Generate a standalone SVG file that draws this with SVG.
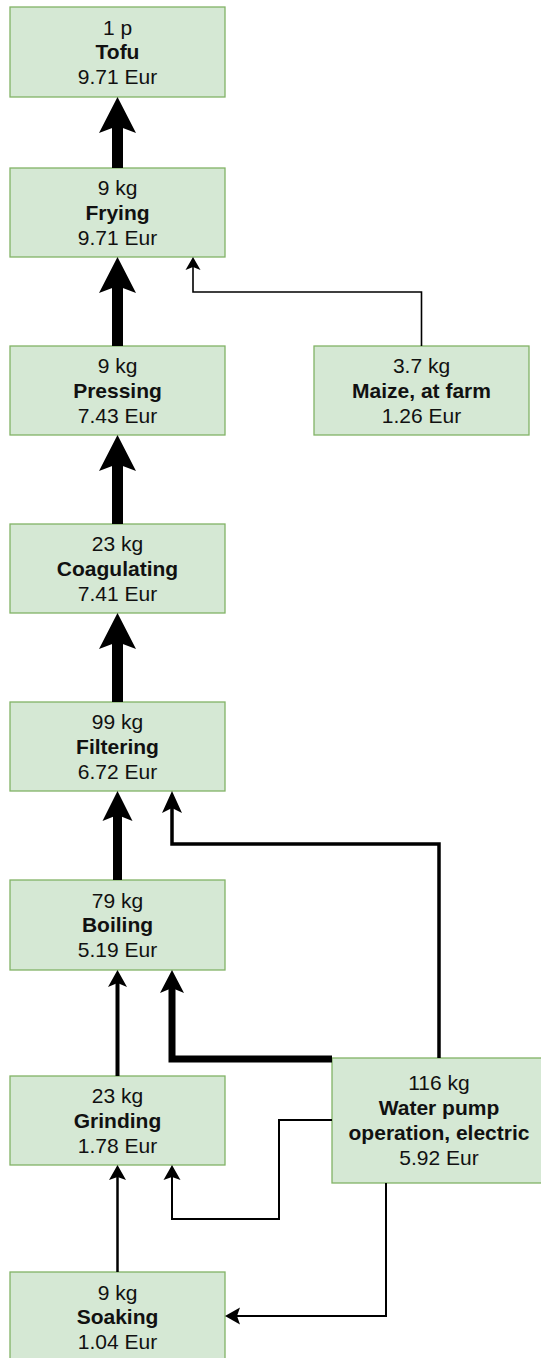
<svg xmlns="http://www.w3.org/2000/svg" width="541" height="1358" viewBox="0 0 541 1358">
<style>
.box{fill:#d5e8d4;stroke:#82b366;stroke-width:1.3}
.t{font-family:"Liberation Sans",Arial,sans-serif;font-size:21px;fill:#111;text-anchor:middle}
.b{font-weight:bold}
.e{fill:none;stroke:#000;stroke-linejoin:miter;stroke-linecap:butt}
</style>
<defs>
<marker id="aXL" markerUnits="userSpaceOnUse" orient="auto" refX="7" refY="0" markerWidth="40" markerHeight="40" overflow="visible"><path d="M0,-18.5 L36,0 L0,18.5 L7,0 Z" fill="#000"/></marker>
<marker id="aL" markerUnits="userSpaceOnUse" orient="auto" refX="6" refY="0" markerWidth="40" markerHeight="40" overflow="visible"><path d="M0,-15 L30,0 L0,15 L6,0 Z" fill="#000"/></marker>
<marker id="aM" markerUnits="userSpaceOnUse" orient="auto" refX="5" refY="0" markerWidth="40" markerHeight="40" overflow="visible"><path d="M0,-12 L23,0 L0,12 L5,0 Z" fill="#000"/></marker>
<marker id="aS" markerUnits="userSpaceOnUse" orient="auto" refX="5" refY="0" markerWidth="40" markerHeight="40" overflow="visible"><path d="M0,-10 L22,0 L0,10 L5,0 Z" fill="#000"/></marker>
<marker id="aG" markerUnits="userSpaceOnUse" orient="auto" refX="4" refY="0" markerWidth="40" markerHeight="40" overflow="visible"><path d="M0,-9.5 L17,0 L0,9.5 L4,0 Z" fill="#000"/></marker>
<marker id="aXS" markerUnits="userSpaceOnUse" orient="auto" refX="3" refY="0" markerWidth="40" markerHeight="40" overflow="visible"><path d="M0,-8.5 L15,0 L0,8.5 L3,0 Z" fill="#000"/></marker>
<marker id="aXXS" markerUnits="userSpaceOnUse" orient="auto" refX="3" refY="0" markerWidth="40" markerHeight="40" overflow="visible"><path d="M0,-7.5 L13,0 L0,7.5 L3,0 Z" fill="#000"/></marker>
</defs>
<rect width="541" height="1358" fill="#fff"/>
<g id="tofu"><rect class="box" x="10" y="7" width="215" height="90"/>
<text class="t" x="117.5" y="34.5">1 p</text><text class="t b" x="117.5" y="59">Tofu</text><text class="t" x="117.5" y="84">9.71 Eur</text></g>
<g id="frying"><rect class="box" x="10" y="168" width="215" height="89"/>
<text class="t" x="117.5" y="195">9 kg</text><text class="t b" x="117.5" y="219.5">Frying</text><text class="t" x="117.5" y="244.5">9.71 Eur</text></g>
<g id="pressing"><rect class="box" x="10" y="346" width="215" height="89"/>
<text class="t" x="117.5" y="373">9 kg</text><text class="t b" x="117.5" y="397.5">Pressing</text><text class="t" x="117.5" y="422.5">7.43 Eur</text></g>
<g id="maize"><rect class="box" x="314" y="346" width="215" height="89"/>
<text class="t" x="421.5" y="373">3.7 kg</text><text class="t b" x="421.5" y="397.5">Maize, at farm</text><text class="t" x="421.5" y="422.5">1.26 Eur</text></g>
<g id="coagulating"><rect class="box" x="10" y="524" width="215" height="89"/>
<text class="t" x="117.5" y="551">23 kg</text><text class="t b" x="117.5" y="575.5">Coagulating</text><text class="t" x="117.5" y="600.5">7.41 Eur</text></g>
<g id="filtering"><rect class="box" x="10" y="702" width="215" height="89"/>
<text class="t" x="117.5" y="729">99 kg</text><text class="t b" x="117.5" y="753.5">Filtering</text><text class="t" x="117.5" y="778.5">6.72 Eur</text></g>
<g id="boiling"><rect class="box" x="10" y="880" width="215" height="90"/>
<text class="t" x="117.5" y="907.5">79 kg</text><text class="t b" x="117.5" y="932">Boiling</text><text class="t" x="117.5" y="957">5.19 Eur</text></g>
<g id="grinding"><rect class="box" x="10" y="1076" width="215" height="89"/>
<text class="t" x="117.5" y="1103">23 kg</text><text class="t b" x="117.5" y="1127.5">Grinding</text><text class="t" x="117.5" y="1152.5">1.78 Eur</text></g>
<g id="soaking"><rect class="box" x="10" y="1272" width="215" height="90"/>
<text class="t" x="117.5" y="1299.5">9 kg</text><text class="t b" x="117.5" y="1324">Soaking</text><text class="t" x="117.5" y="1349">1.04 Eur</text></g>
<g id="waterpump"><rect class="box" x="332" y="1058" width="215" height="125"/>
<text class="t" x="439" y="1090">116 kg</text><text class="t b" x="439" y="1114.5">Water pump</text><text class="t b" x="439" y="1140">operation, electric</text><text class="t" x="439" y="1165">5.92 Eur</text></g>
<g id="connectors">
<path class="e" stroke-width="11" d="M117.5,168 L117.5,126" marker-end="url(#aXL)"/>
<path class="e" stroke-width="11" d="M117.5,346 L117.5,286" marker-end="url(#aXL)"/>
<path class="e" stroke-width="11" d="M117.5,524 L117.5,464" marker-end="url(#aXL)"/>
<path class="e" stroke-width="11" d="M117.5,702 L117.5,642" marker-end="url(#aXL)"/>
<path class="e" stroke-width="9" d="M117.5,880 L117.5,815" marker-end="url(#aL)"/>
<path class="e" stroke-width="1.6" d="M421.5,346 L421.5,292 L193,292 L193,267" marker-end="url(#aXXS)"/>
<path class="e" stroke-width="3.5" d="M439,1058 L439,844 L172,844 L172,808" marker-end="url(#aS)"/>
<path class="e" stroke-width="7" d="M332,1059 L172,1059 L172,988" marker-end="url(#aM)"/>
<path class="e" stroke-width="4" d="M117.5,1076 L117.5,983" marker-end="url(#aG)"/>
<path class="e" stroke-width="2.5" d="M117.5,1272 L117.5,1177" marker-end="url(#aXS)"/>
<path class="e" stroke-width="2" d="M332,1120 L279,1120 L279,1219 L172,1219 L172,1177" marker-end="url(#aXS)"/>
<path class="e" stroke-width="2" d="M386,1183 L386,1316 L237,1316" marker-end="url(#aXS)"/>
</g>
</svg>
